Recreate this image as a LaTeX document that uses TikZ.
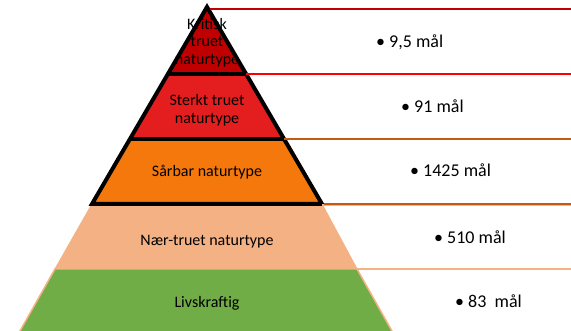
\documentclass[tikz,border=0pt]{standalone}
\usepackage{fontspec}
\setmainfont{Carlito}
\definecolor{darkred}{HTML}{C00000}
\definecolor{midred}{HTML}{E41E1E}
\definecolor{brightred}{HTML}{FF0000}
\definecolor{orangefill}{HTML}{F4780B}
\definecolor{brownline}{HTML}{C55A11}
\definecolor{salmon}{HTML}{F4B183}
\definecolor{leafgreen}{HTML}{70AD47}
\tikzset{
  lab/.style={font=\fontsize{16}{17.5}\selectfont, align=center, inner sep=0pt, text=black},
  val/.style={font=\fontsize{18}{20}\selectfont, anchor=base west, inner sep=0pt, text=black},
  rline/.style={line width=2pt},
  sep/.style={draw=black, line width=3.5pt}
}
\begin{document}
\begin{tikzpicture}[x=1pt,y=-1pt]
\useasboundingbox (0,0) rectangle (571,331);
\clip (0,0) rectangle (571,331);
% key points
\coordinate (apex) at (207,7);
\coordinate (l1) at (167.9,74);  \coordinate (r1) at (246.1,74);
\coordinate (l2) at (129.9,139); \coordinate (r2) at (284.1,139);
\coordinate (l3) at (92,204);    \coordinate (r3) at (322,204);
\coordinate (l4) at (55,269);    \coordinate (r4) at (357,269);
\coordinate (l5) at (14.9,340);  \coordinate (r5) at (397,340);
\coordinate (e0) at (571,9);
\coordinate (e1) at (571,74);
\coordinate (e2) at (571,139);
\coordinate (e3) at (571,204);
\coordinate (e4) at (571,269);
\coordinate (s0) at (210,9);
% lower layers
\filldraw[fill=salmon, draw=salmon, line width=1pt] (l3) -- (r3) -- (r4) -- (l4) -- cycle;
\filldraw[fill=leafgreen, draw=salmon, line width=1.5pt] (l4) -- (r4) -- (r5) -- (l5) -- cycle;
% triangle layers
\fill[darkred] (apex) -- (r1) -- (l1) -- cycle;
\fill[midred] (l1) -- (r1) -- (r2) -- (l2) -- cycle;
\fill[orangefill] (l2) -- (r2) -- (r3) -- (l3) -- cycle;
\draw[sep] (l1) -- (r1);
\draw[sep] (l2) -- (r2);
\draw[black, line width=4pt, line join=miter] (apex) -- (r3) -- (l3) -- cycle;
% right lines
\draw[rline, darkred] (s0) -- (e0);
\draw[rline, brightred] (r1) -- (e1);
\draw[rline, brownline] (r2) -- (e2);
\draw[rline, salmon] ([yshift=-1.5pt]r3) -- ([yshift=-1.5pt]e3);
\draw[line width=1.5pt, brownline] ([xshift=2pt]r3) -- (e3);
\draw[rline, salmon] (r4) -- (e4);
% labels
\node[lab] (k) at (207,42.5) {Kritisk\\truet\\naturtype};
\node[lab] (s) at (207,110) {Sterkt truet\\naturtype};
\node[lab, anchor=base] (v) at (207,177) {Sårbar naturtype};
\node[lab, anchor=base] (n) at (207,246) {Nær-truet naturtype};
\node[lab, anchor=base] (lv) at (207,308) {Livskraftig};
% values
\node[val] (v1) at (376,48) {• 9,5 mål};
\node[val] (v2) at (401,113) {• 91 mål};
\node[val] (v3) at (410,177) {• 1425 mål};
\node[val] (v4) at (434,244) {• 510 mål};
\node[val] (v5) at (455,308) {• 83\ \ mål};
\end{tikzpicture}
\end{document}
